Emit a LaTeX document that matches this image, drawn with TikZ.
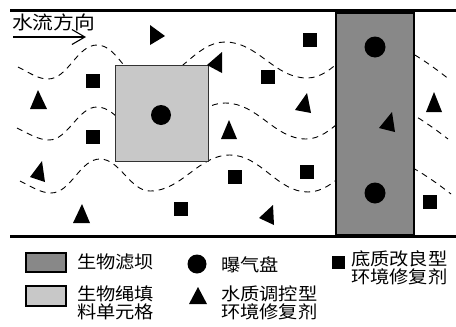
\documentclass[tikz,border=0pt]{standalone}
\usepackage{fontspec}
\newfontfamily\cjk{Noto Sans CJK SC}
\usetikzlibrary{arrows.meta}
\definecolor{damgray}{RGB}{136,136,136}
\definecolor{cellgray}{RGB}{200,200,200}
\newcommand\mytri[3]{\fill (#1) -- (#2) -- (#3) -- cycle;}
\newcommand\mysq[2]{\fill (#1-7,#2-7) rectangle (#1+7,#2+7);}
\begin{document}
\begin{tikzpicture}[x=1pt,y=-1pt,
  wave/.style={dash pattern=on 6pt off 5pt, line width=0.9pt},
  bank/.style={line width=3pt},
  dam/.style={draw=black, line width=2pt, fill=damgray},
  cell/.style={draw=black!80, line width=1pt, fill=cellgray},
  lbl/.style={inner sep=0pt, anchor=west, align=left, xscale=1.1,
    font=\cjk\fontsize{17.5}{17.5}\selectfont},
  flow/.style={line width=1.1pt, -{Straight Barb[length=13pt,width=15pt,line width=1.1pt]}}
]
\useasboundingbox (0,0) rectangle (456,327);
% banks
\coordinate (tl) at (10,10); \coordinate (tr) at (456,10);
\coordinate (bl) at (10,236); \coordinate (br) at (456,236);
\draw[bank] (tl) -- (tr);
\draw[bank] (bl) -- (br);
% flow label and arrow
\node[lbl, font=\cjk\fontsize{18.5}{18.5}\selectfont, xscale=1.02] (flowtxt) at (12,22) {水流方向};
\coordinate (arrS) at (13,37); \coordinate (arrE) at (86,37);
\draw[flow] (arrS) -- (arrE);
% dashed streamlines
\draw[wave] (18,67) .. controls (30,73) and (38,79) .. (48,79)
  .. controls (68,79) and (77,45) .. (97,45)
  .. controls (118,45) and (127,82) .. (148,82)
  .. controls (178,82) and (195,42) .. (225,42)
  .. controls (258,42) and (274,78) .. (307,78)
  .. controls (335,78) and (350,40) .. (375,40)
  .. controls (395,40) and (425,60) .. (450,80);
\draw[wave] (17,128) .. controls (29,134) and (39,140) .. (49,140)
  .. controls (68,140) and (78,107) .. (97,107)
  .. controls (118,107) and (129,140) .. (150,140)
  .. controls (180,140) and (195,103) .. (225,103)
  .. controls (258,103) and (274,139) .. (306,139)
  .. controls (334,139) and (350,101) .. (375,101)
  .. controls (395,101) and (425,121) .. (448,139);
\draw[wave] (20,181) .. controls (32,187) and (41,193) .. (51,193)
  .. controls (71,193) and (80,159) .. (100,159)
  .. controls (120,159) and (130,191) .. (150,191)
  .. controls (182,191) and (198,155) .. (230,155)
  .. controls (261,155) and (277,192) .. (308,192)
  .. controls (336,192) and (352,156) .. (378,156)
  .. controls (398,156) and (428,176) .. (451,194);
% filler cell and dam
\node[cell, minimum width=93pt, minimum height=96pt, inner sep=0pt, anchor=north west] (cellbox) at (115,65) {};
\node[dam, minimum width=78pt, minimum height=222pt, inner sep=0pt, anchor=north west] (dambox) at (335,12) {};
% aeration discs
\fill (161,115) circle (10);
\fill (375,47) circle (10.5);
\fill (375,193) circle (10.5);
% substrate agents (squares)
\mysq{93}{81}
\mysq{93}{137}
\mysq{268}{77}
\mysq{310}{40}
\mysq{235}{177}
\mysq{307}{172}
\mysq{181}{209}
\mysq{430}{202}
% water agents (triangles)
\mytri{150,25}{150,45}{165,36}
\mytri{207,65}{222,52}{222,73}
\mytri{38,90}{30,109}{47,109}
\mytri{42,161}{30,177}{45,182}
\mytri{82,204}{73,223}{90,223}
\mytri{229,120}{221,139}{237,139}
\mytri{307,93}{295,110}{311,113}
\mytri{273,205}{259,218}{274,225}
\mytri{392,112}{379,128}{395,132}
\mytri{434,92}{426,112}{442,112}
% legend
\node[dam, minimum width=40pt, minimum height=19pt, inner sep=0pt, anchor=north west] (lgdam) at (25,252) {};
\node[cell, draw=black, line width=2pt, minimum width=40pt, minimum height=20pt, inner sep=0pt, anchor=north west] (lgcell) at (25,285) {};
\node[lbl] (t1) at (77,262) {生物滤坝};
\node[lbl] (t2) at (77,303) {生物绳填\\料单元格};
\fill (197,264) circle (9.5);
\node[lbl] (t3) at (221,265) {曝气盘};
\mytri{198,287}{189,304}{207,304}
\node[lbl] (t4) at (221,303) {水质调控型\\环境修复剂};
\fill (332,256) rectangle (345,269);
\node[lbl] (t5) at (351,268) {底质改良型\\环境修复剂};
\end{tikzpicture}
\end{document}
